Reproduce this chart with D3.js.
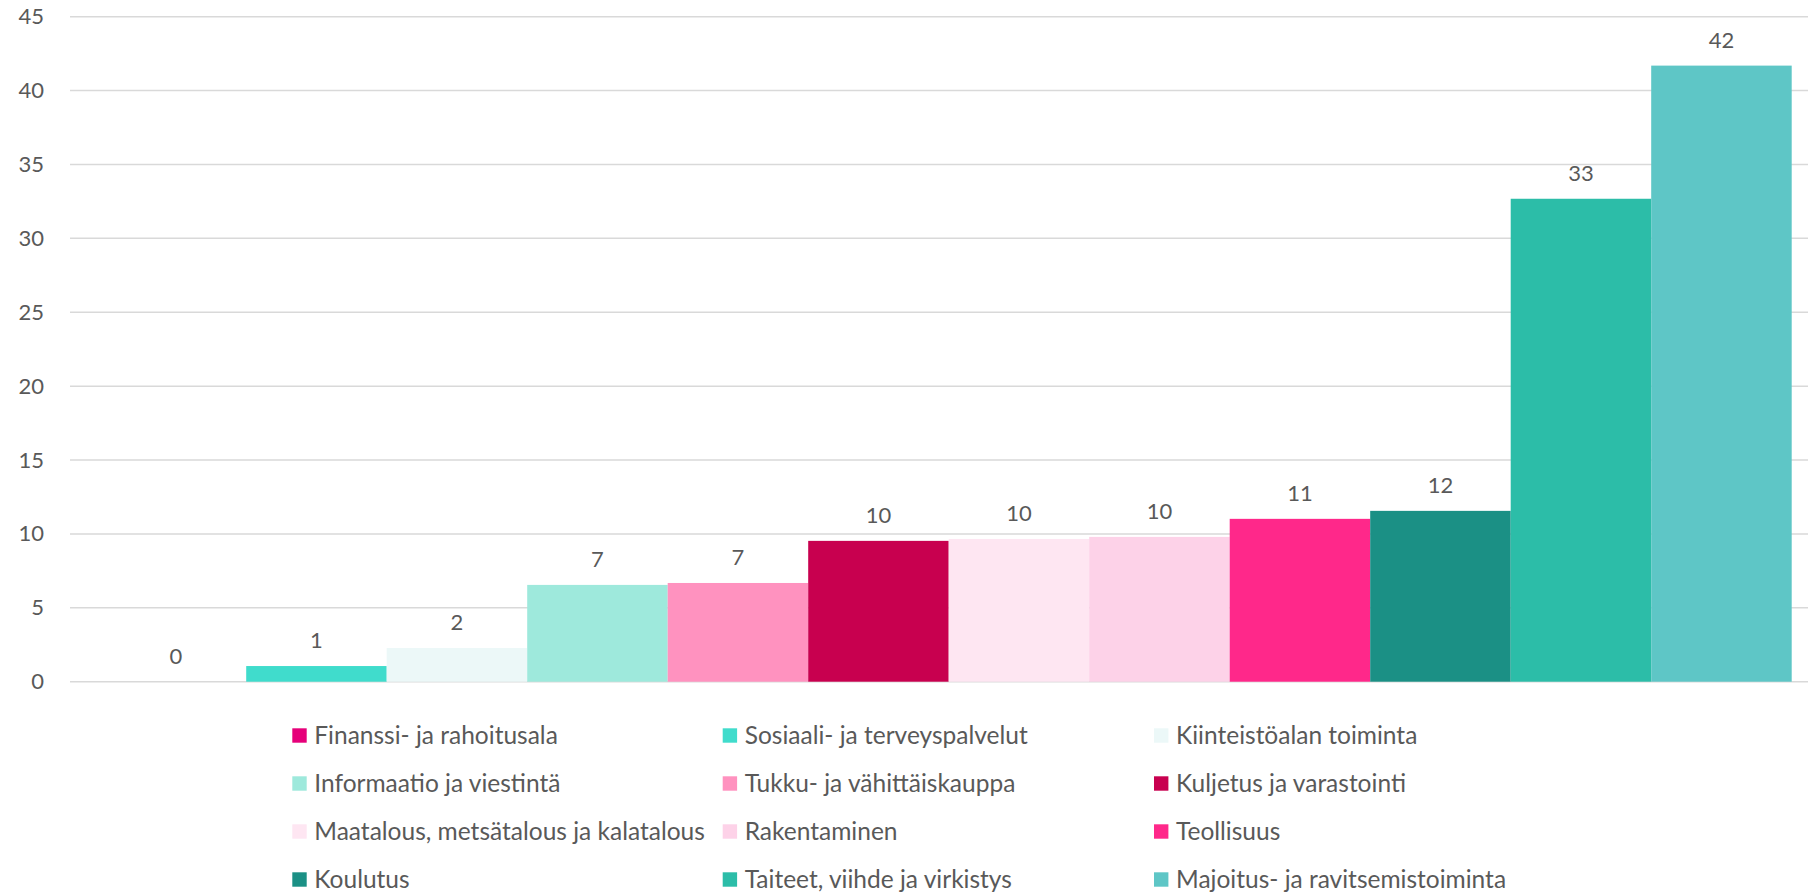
<!DOCTYPE html>
<html>
<head>
<meta charset="utf-8">
<script src="https://cdn.jsdelivr.net/npm/d3@7"></script>
<style>
  body { margin: 0; background: #fff; }
  svg { display: block; font-family: Lato, "Noto Sans", sans-serif; }
</style>
</head>
<body>
<svg></svg>
<script>
// koko kuva
const width = 1808;
const height = 892;

// toimialat ja arvot (järjestys kuten kuvassa)
const categories = [
  "Finanssi- ja rahoitusala",
  "Sosiaali- ja terveyspalvelut",
  "Kiinteistöalan toiminta",
  "Informaatio ja viestintä",
  "Tukku- ja vähittäiskauppa",
  "Kuljetus ja varastointi",
  "Maatalous, metsätalous ja kalatalous",
  "Rakentaminen",
  "Teollisuus",
  "Koulutus",
  "Taiteet, viihde ja virkistys",
  "Majoitus- ja ravitsemistoiminta"
];
const values = [0, 1.06, 2.28, 6.55, 6.68, 9.53, 9.66, 9.8, 11.02, 11.56, 32.68, 41.69];
const colors = ["#E6007A", "#40DCCC", "#ECF8F8", "#9EE9DC", "#FF92BF", "#C8004F",
                "#FEE6F2", "#FDD2E8", "#FF288A", "#1B9085", "#2CBDA8", "#5EC6C6"];
const yTicks = [0, 5, 10, 15, 20, 25, 30, 35, 40, 45];

const textColor = "#595959";
const gridColor = "#D9D9D9";

let svg = d3.select("svg")
    .attr("width", width)
    .attr("height", height);

// akselit
const gridLeft = 70;
const x = d3.scaleBand()
    .domain(categories)
    .range([105.7, 1791.7])
    .padding(0);

const y = d3.scaleLinear()
    .domain([0, 45])
    .range([681.7, 16.7]);

// apuviivat
svg.append("g")
    .selectAll("line")
    .data(yTicks)
    .join("line")
    .attr("x1", gridLeft)
    .attr("x2", width)
    .attr("y1", d => y(d))
    .attr("y2", d => y(d))
    .style("stroke", gridColor)
    .style("stroke-width", 1.5);

// y-akselin luvut
let yAxis = svg.append("g")
    .attr("transform", `translate(${gridLeft},0)`)
    .call(d3.axisLeft(y).tickValues(yTicks).tickSize(0).tickPadding(26));
yAxis.select(".domain").remove();
yAxis.selectAll("text")
    .style("font-size", "22px")
    .style("font-family", "Lato, 'Noto Sans', sans-serif")
    .style("fill", textColor);

// pylväät
svg.append("g")
    .selectAll("rect")
    .data(categories)
    .join("rect")
    .attr("x", d => x(d))
    .attr("width", x.bandwidth())
    .attr("y", (d, i) => y(values[i]))
    .attr("height", (d, i) => y(0) - y(values[i]))
    .style("fill", (d, i) => colors[i]);

// arvojen tekstit
svg.append("g")
    .selectAll("text")
    .data(categories)
    .join("text")
    .attr("x", d => x(d) + x.bandwidth() / 2)
    .attr("y", (d, i) => y(values[i]) - 18)
    .attr("text-anchor", "middle")
    .style("font-size", "22px")
    .style("fill", textColor)
    .text((d, i) => d3.format(".0f")(values[i]));

// selite: 3 saraketta, 4 riviä
const legendX = [292.3, 722.7, 1154];
const legendY = [735.5, 783.5, 831.5, 879.5];
const box = 14.4;

let legend = svg.append("g")
    .selectAll("g")
    .data(categories)
    .join("g")
    .attr("transform", (d, i) => `translate(${legendX[i % 3]},${legendY[Math.floor(i / 3)]})`);

legend.append("rect")
    .attr("x", 0)
    .attr("y", -box / 2)
    .attr("width", box)
    .attr("height", box)
    .style("fill", (d, i) => colors[i]);

legend.append("text")
    .attr("x", 22)
    .attr("y", 0)
    .attr("dy", "0.36em")
    .style("font-size", "24.5px")
    .style("fill", textColor)
    .text(d => d);
</script>
</body>
</html>
